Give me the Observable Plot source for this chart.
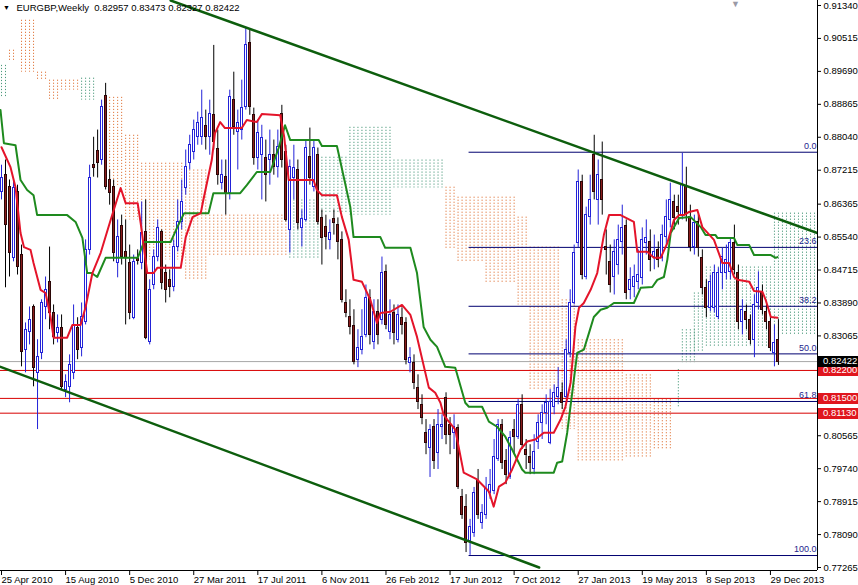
<!DOCTYPE html>
<html>
<head>
<meta charset="utf-8">
<script src="https://cdn.jsdelivr.net/npm/d3@7"></script>
<script src="https://cdn.jsdelivr.net/npm/@observablehq/plot@0.6"></script>
<style>
  html, body { margin: 0; padding: 0; background: #fff; overflow: hidden; }
  svg { display: block; }
</style>
</head>
<body>
<div id="chart"></div>
<script>
// ---------------- data ----------------
const symbolTitle = "EURGBP,Weekly  0.82957 0.83473 0.82327 0.82422";

const dateLabels = ["25 Apr 2010","15 Aug 2010","5 Dec 2010","27 Mar 2011","17 Jul 2011","6 Nov 2011",
  "26 Feb 2012","17 Jun 2012","7 Oct 2012","27 Jan 2013","19 May 2013","8 Sep 2013","29 Dec 2013"];
const dateTickWeeks = [0,16,32,48,64,80,96,112,128,144,160,176,192];

const priceTicks = [0.91340,0.90515,0.89690,0.88865,0.88040,0.87215,0.86365,0.85540,0.84715,
  0.83890,0.83065,0.80565,0.79740,0.78915,0.78090,0.77265];

// weekly candles, week 0 = 25 Apr 2010
const opens = [
.8667,.8709,.8679,.8502,.8667,.8509,.8272,.8317,.8379,.8214,.8264,.8379,.8442,.8364,.8314,.8327,.8172,.8179,.8214,.8327,
.8277,.8342,.8522,.8734,.8769,.8747,.8907,.8697,.8679,.8489,.8582,.8517,.8489,.8352,.8499,.8489,.8567,.8292,.8434,.8504,
.8567,.8464,.8447,.8429,.8529,.8592,.8677,.8739,.8767,.8804,.8804,.8832,.8804,.8859,.8774,.8689,.8704,.8664,.8897,.8817,
.8822,.8879,.9039,.8859,.8752,.8759,.8752,.8747,.8759,.8729,.8862,.8767,.8572,.8702,.8722,.8577,.8597,.8754,.8679,.8759,
.8602,.8579,.8547,.8599,.8584,.8547,.8389,.8354,.8332,.8247,.8272,.8309,.8402,.8292,.8367,.8347,.8467,.8317,.8364,.8297,
.8352,.8339,.8239,.8239,.8177,.8134,.8064,.8027,.8079,.8014,.8079,.8152,.8084,.8064,.8077,.7902,.7877,.7792,.7814,.7942,
.7839,.7859,.7914,.7917,.7997,.8084,.7992,.7954,.8072,.8054,.8134,.8022,.8004,.7972,.8042,.8089,.8114,.8039,.8129,.8154,
.8164,.8154,.8264,.8389,.8539,.8692,.8454,.8604,.8759,.8647,.8697,.8529,.8492,.8454,.8484,.8542,.8582,.8422,.8429,.8442,
.8452,.8539,.8542,.8504,.8522,.8502,.8554,.8597,.8642,.8629,.8609,.8679,.8604,.8529,.8592,.8502,.8427,.8377,.8377,.8354,
.8464,.8464,.8467,.8539,.8464,.8342,.8367,.8347,.8297,.8389,.8417,.8367,.8342,.8264,.82957];
const highs = [
.8734,.8747,.8697,.8697,.8684,.8534,.8339,.8379,.8384,.8297,.8397,.8454,.8529,.8384,.8359,.8359,.8209,.8259,.8384,.8352,
.8389,.8547,.8734,.8804,.8822,.8897,.8939,.8722,.8697,.8597,.8609,.8597,.8534,.8509,.8522,.8642,.8647,.8447,.8522,.8597,
.8572,.8484,.8472,.8547,.8647,.8697,.8772,.8809,.8847,.8867,.8922,.8872,.8897,.9034,.8822,.8747,.8747,.8922,.8967,.8872,
.8947,.9079,.9072,.8877,.8847,.8834,.8797,.8822,.8797,.8822,.8884,.8784,.8747,.8784,.8747,.8622,.8797,.8827,.8797,.8777,
.8622,.8609,.8597,.8622,.8602,.8567,.8422,.8397,.8372,.8322,.8372,.8434,.8422,.8397,.8397,.8504,.8484,.8397,.8384,.8384,
.8377,.8352,.8277,.8259,.8209,.8159,.8097,.8084,.8097,.8122,.8109,.8164,.8102,.8109,.8084,.7922,.7909,.7847,.7927,.7972,
.7884,.7952,.7972,.8047,.8097,.8097,.8022,.8067,.8097,.8147,.8159,.8047,.8034,.8059,.8109,.8134,.8159,.8172,.8184,.8227,
.8189,.8297,.8422,.8534,.8722,.8709,.8629,.8709,.8809,.8747,.8792,.8572,.8534,.8547,.8584,.8634,.8597,.8477,.8484,.8522,
.8577,.8597,.8572,.8559,.8542,.8584,.8647,.8689,.8659,.8659,.8764,.8729,.8634,.8609,.8609,.8522,.8447,.8459,.8484,.8477,
.8527,.8534,.8552,.8584,.8484,.8397,.8384,.8359,.8409,.8467,.8434,.8384,.8359,.8334,.83473];
const lows = [
.8647,.8427,.8454,.8492,.8459,.8229,.8214,.8284,.8179,.8072,.8247,.8347,.8322,.8284,.8289,.8172,.8152,.8139,.8197,.8247,
.8254,.8334,.8509,.8704,.8702,.8734,.8672,.8634,.8492,.8452,.8484,.8334,.8347,.8347,.8484,.8472,.8297,.8284,.8422,.8492,
.8422,.8389,.8402,.8417,.8517,.8572,.8659,.8722,.8747,.8784,.8784,.8772,.8759,.8772,.8684,.8672,.8609,.8647,.8809,.8722,
.8797,.8872,.8859,.8734,.8722,.8647,.8642,.8684,.8709,.8702,.8727,.8592,.8514,.8647,.8572,.8529,.8592,.8684,.8667,.8584,
.8484,.8522,.8522,.8559,.8497,.8389,.8352,.8309,.8234,.8227,.8259,.8302,.8284,.8272,.8284,.8334,.8322,.8297,.8284,.8289,
.8309,.8234,.8214,.8172,.8122,.8084,.8009,.7952,.7972,.7972,.8047,.8034,.8009,.8022,.7922,.7847,.7764,.7757,.7802,.7847,
.7822,.7847,.7897,.7909,.7992,.7972,.7934,.7947,.8009,.8047,.8022,.7972,.7959,.7959,.8022,.8047,.8084,.8034,.8109,.8134,
.8122,.8147,.8252,.8384,.8527,.8447,.8447,.8584,.8647,.8584,.8609,.8459,.8414,.8409,.8459,.8509,.8397,.8397,.8402,.8422,
.8434,.8509,.8467,.8472,.8477,.8492,.8534,.8577,.8572,.8584,.8597,.8592,.8517,.8509,.8504,.8409,.8352,.8367,.8364,.8347,
.8422,.8447,.8447,.8459,.8322,.8309,.8322,.8284,.8252,.8372,.8359,.8322,.8267,.8229,.82327];
const closes = [
.8702,.8584,.8514,.8677,.8479,.8267,.8322,.8347,.8227,.8254,.8389,.8422,.8364,.8304,.8327,.8179,.8192,.8234,.8334,.8272,
.8354,.8522,.8702,.8727,.8739,.8879,.8679,.8664,.8514,.8554,.8504,.8502,.8364,.8492,.8494,.8564,.8302,.8422,.8504,.8577,
.8439,.8422,.8429,.8529,.8592,.8642,.8729,.8784,.8822,.8839,.8852,.8804,.8862,.8792,.8709,.8709,.8664,.8904,.8829,.8839,
.8877,.9034,.8879,.8752,.8814,.8802,.8709,.8759,.8729,.8779,.8747,.8597,.8729,.8727,.8589,.8599,.8777,.8702,.8777,.8592,
.8552,.8554,.8564,.8589,.8542,.8397,.8364,.8329,.8242,.8277,.8304,.8402,.8309,.8367,.8309,.8464,.8334,.8359,.8314,.8359,
.8334,.8247,.8252,.8189,.8142,.8102,.8039,.8072,.7992,.8084,.8084,.8059,.8059,.8079,.7929,.7859,.7789,.7827,.7914,.7859,
.7864,.7922,.7932,.8002,.8084,.7989,.7959,.8052,.8054,.8134,.8034,.8009,.7989,.8017,.8089,.8114,.8139,.8142,.8164,.8177,
.8139,.8272,.8389,.8514,.8692,.8459,.8609,.8647,.8667,.8709,.8647,.8522,.8434,.8517,.8547,.8577,.8414,.8447,.8454,.8459,
.8547,.8552,.8497,.8517,.8497,.8559,.8604,.8647,.8602,.8617,.8684,.8609,.8529,.8589,.8527,.8427,.8377,.8442,.8464,.8464,
.8504,.8497,.8539,.8472,.8342,.8372,.8347,.8297,.8384,.8427,.8372,.8342,.8277,.8289,.82422];

// Ichimoku Tenkan-sen (red) vertices
const tenkanWeeks = [0,2.25,3.5,4.75,5.6,7.25,8,9.75,11,12.25,13,16.4,17.7,19.75,21,22.7,24.75,27.25,29.75,31,
  34,34.75,36.4,38,38.9,44.75,46,47.7,49.75,50.4,52.5,53.3,54.6,55.8,60,61.25,63.75,65,69.6,70.6,
  71.7,77.9,78.75,80,83.75,85,86.7,87.9,90,92.1,93.75,94.6,97.1,100,102.1,103.75,106.7,108.3,109.6,110.4,
  111.3,113.3,115.4,118.75,121.7,122.9,124.2,125.8,127.5,129.6,131.25,133.3,135.4,137.9,139.6,140.8,142.1,143.3,144.2,145.4,
  147.1,148.75,150.4,151.7,154.6,157.9,158.75,161.25,162.9,164.6,166.25,167.9,169.2,170.4,171.7,173.75,175,177.9,180,181.7,
  182.9,183.75,186.7,187.9,190,190.8,192.1,193.75];
const tenkanPrices = [.8779,.8729,.8679,.8564,.8529,.8522,.8489,.8422,.8414,.8354,.8302,.8302,.8334,.8334,.8379,.8464,.8514,.8597,.8677,.8639,
  .8639,.8589,.8464,.8464,.8477,.8477,.8554,.8604,.8614,.8647,.8747,.8814,.8842,.8827,.8827,.8847,.8842,.8862,.8859,.8804,
  .8697,.8697,.8672,.8659,.8659,.8604,.8547,.8447,.8442,.8397,.8339,.8364,.8367,.8384,.8359,.8304,.8177,.8164,.8139,.8109,
  .8097,.8072,.7964,.7947,.7917,.7879,.7929,.7939,.7972,.8022,.8042,.8047,.8064,.8064,.8097,.8129,.8189,.8329,.8377,.8389,
  .8422,.8464,.8559,.8609,.8609,.8592,.8517,.8517,.8502,.8502,.8539,.8597,.8609,.8609,.8617,.8622,.8579,.8547,.8489,.8489,
  .8454,.8447,.8442,.8419,.8417,.8397,.8354,.8352];

// Ichimoku Kijun-sen (green) vertices
const kijunWeeks = [-0.25,0.6,3.5,4.75,6.4,8,8.9,16.4,18.5,20.2,21.4,22.5,23.9,26,34,35.6,42.25,43.9,45.6,51.7,
  52.9,59.6,61.25,63.75,67.1,69.2,70.8,72.1,79.2,80,83.75,85.8,87.1,87.9,94.6,95.8,102.1,103.75,105.4,107.1,
  108.75,110.8,113.3,115.8,116.7,120,121.7,123.75,125.8,127.5,130,130.8,137.9,138.75,140,141.25,142.5,143.75,145.4,146.7,
  147.9,149.6,151.25,152.9,157.9,159.6,162.5,163.75,165.4,166.25,167.1,169.2,172.1,174.6,175.8,178.3,178.75,182.9,183.75,186.7,
  187.9,192.1,193.3,193.75];
const kijunPrices = [.8872,.8789,.8784,.8697,.8672,.8659,.8609,.8609,.8592,.8552,.8464,.8464,.8454,.8502,.8502,.8542,.8542,.8579,.8614,.8614,
  .8664,.8664,.8684,.8717,.8717,.8777,.8834,.8797,.8797,.8782,.8782,.8689,.8629,.8554,.8554,.8527,.8527,.8464,.8329,.8297,
  .8279,.8229,.8227,.8139,.8129,.8129,.8092,.8079,.8054,.8022,.7972,.7964,.7964,.7989,.7992,.8064,.8164,.8264,.8272,.8314,
  .8354,.8372,.8377,.8389,.8389,.8427,.8429,.8447,.8454,.8497,.8564,.8602,.8604,.8579,.8559,.8559,.8552,.8552,.8534,.8534,
  .8509,.8509,.8502,.8504];

// Ichimoku cloud blocks (Senkou Span A / B, already shifted forward)
const cloudStart = [0,2,5,9,12,15,20,26,31,35,46,52,72,80,87,98,111,114,121,129,132,140,144,156,163,169,170,173,176,193];
const cloudEnd   = [1,3,8,11,14,19,23,30,34,45,51,71,79,86,97,110,113,120,128,131,139,143,155,162,167,169,173,175,192,203];
const senkouA = [.8984,.8992,.8967,.8947,.8897,.8922,.8952,.8679,.8597,.8497,.8447,.8504,.8647,.8754,.8829,.8747,.8522,.8489,.8439,.8384,
  .8172,.8072,.7989,.8002,.8022,.8222,.8322,.8414,.8479,.8614];
const senkouB = [.8904,.9022,.9097,.8967,.8947,.8947,.8897,.8904,.8809,.8739,.8722,.8609,.8497,.8614,.8609,.8677,.8679,.8654,.8654,.8604,
  .8529,.8397,.8297,.8209,.8147,.8129,.8239,.8264,.8279,.8309];

// trend channel anchors [week, price]
const upperTrend = [[42.25, 0.91465], [203.75, 0.8564]];
const lowerTrend = [[-0.25, 0.8229], [134.25, 0.77265]];

// Fibonacci retracement
const fibStartWeek = 116.75;
const fibLabels = ["0.0","23.6","38.2","50.0","61.8","100.0"];
const fibPrices = [0.87665,0.85282,0.83807,0.82615,0.81423,0.77565];

// horizontal levels
const levelPrices = [0.82200, 0.81500, 0.81130];
const bidPrice = 0.82422;

// ---------------- chart ----------------
const W = 858, H = 585;
const mL = 0, mR = 41, mT = 0, mB = 15;
const xDomain = [-0.25, 203.75];
const yDomain = [0.77190, 0.91465];

const candles = opens.map((o, i) => ({w: i, o, h: highs[i], l: lows[i], c: closes[i]}));
const up = candles.filter(d => d.c >= d.o);
const down = candles.filter(d => d.c < d.o);
// one dotted column per bar inside each cloud block
const cloudCols = cloudStart.flatMap((s, i) =>
  d3.range(s, cloudEnd[i] + 1).map(w => ({w, a: senkouA[i], b: senkouB[i]})));
const tenkan = tenkanWeeks.map((w, i) => ({w, v: tenkanPrices[i]}));
const kijun = kijunWeeks.map((w, i) => ({w, v: kijunPrices[i]}));
const fib = fibPrices.map((v, i) => ({v, label: fibLabels[i]}));

const BULL = "#2222d8", BEAR_FILL = "#8a1c1c", BEAR_LINE = "#2a0606", BEAR_WICK = "#000000";

const chart = Plot.plot({
  width: W, height: H,
  marginLeft: mL, marginRight: mR, marginTop: mT, marginBottom: mB,
  x: {domain: xDomain},
  y: {domain: yDomain},
  style: {fontFamily: "'Liberation Sans', Arial, sans-serif", fontSize: "9.5px", background: "#ffffff", color: "#000000", overflow: "visible"},
  marks: [
    // cloud (dotted histogram)
    Plot.ruleX(cloudCols.filter(d => d.a < d.b), {x: "w", y1: "b", y2: "a", stroke: "#e0783e", strokeWidth: 1, strokeDasharray: "1.2,1.8", clip: true}),
    Plot.ruleX(cloudCols.filter(d => d.a >= d.b), {x: "w", y1: "a", y2: "b", stroke: "#4c9a7c", strokeWidth: 1, strokeDasharray: "1.2,1.8", clip: true}),
    // horizontal lines
    Plot.ruleY([bidPrice], {stroke: "#a8a8a8", strokeWidth: 1}),
    Plot.ruleY(levelPrices, {stroke: "#d80000", strokeWidth: 1}),
    Plot.ruleY(fibPrices, {x1: fibStartWeek, x2: xDomain[1], stroke: "#000070", strokeWidth: 1}),
    Plot.text(fib, {x: () => xDomain[1], y: "v", text: "label", textAnchor: "end", dx: -1, dy: -6, fill: "#24248c", fontSize: 9}),
    // candles: wicks then bodies
    Plot.ruleX(down, {x: "w", y1: "l", y2: "h", stroke: BEAR_WICK, strokeWidth: 1, clip: true}),
    Plot.ruleX(up, {x: "w", y1: "l", y2: "h", stroke: BULL, strokeWidth: 1, clip: true}),
    Plot.rect(down, {x1: d => d.w - 0.25, x2: d => d.w + 0.25, y1: "o", y2: "c", fill: BEAR_FILL, stroke: BEAR_LINE, strokeWidth: 1, shapeRendering: "crispEdges"}),
    Plot.rect(up, {x1: d => d.w - 0.25, x2: d => d.w + 0.25, y1: "o", y2: "c", fill: "#ffffff", stroke: BULL, strokeWidth: 1, shapeRendering: "crispEdges"}),
    // ichimoku lines
    Plot.line(kijun, {x: "w", y: "v", stroke: "#1e8a1e", strokeWidth: 2}),
    Plot.line(tenkan, {x: "w", y: "v", stroke: "#e4142a", strokeWidth: 2}),
    // trend channel
    Plot.line(upperTrend, {x: d => d[0], y: d => d[1], stroke: "#0d5e0d", strokeWidth: 2.5, clip: true}),
    Plot.line(lowerTrend, {x: d => d[0], y: d => d[1], stroke: "#0d5e0d", strokeWidth: 2.5, clip: true}),
    // axes
    Plot.axisY(priceTicks, {anchor: "right", tickSize: 3, tickPadding: 3, tickFormat: d => d.toFixed(5), label: null}),
    Plot.axisX(dateTickWeeks, {anchor: "bottom", tickSize: 5, tickPadding: 1, textAnchor: "start",
      tickFormat: d => dateLabels[dateTickWeeks.indexOf(d)], label: null}),
    Plot.ruleX([xDomain[1]], {stroke: "#000"}),
    Plot.ruleY([yDomain[0]], {stroke: "#000"}),
    // title
    Plot.text([symbolTitle], {frameAnchor: "top-left", dx: 16, dy: 7, textAnchor: "start", lineAnchor: "middle", fill: "#000"}),
    Plot.text(["\u25BC"], {frameAnchor: "top-left", dx: 6, dy: 7, textAnchor: "middle", lineAnchor: "middle", fontSize: 7, fill: "#000"}),
    Plot.text(["\u25BC"], {frameAnchor: "top-right", dx: -82, dy: 4, textAnchor: "middle", lineAnchor: "middle", fontSize: 9, fill: "#9a9aa6"})
  ]
});

document.getElementById("chart").appendChild(chart);

// price tags on the right axis
const svg = d3.select(chart);
const ys = chart.scale("y");
const tagX = W - mR + 1;
const tags = [
  ...levelPrices.map(v => ({v, bg: "#e0161e"})),
  {v: bidPrice, bg: "#000000"}
];
const tg = svg.append("g").attr("font-family", "'Liberation Sans', Arial, sans-serif")
  .attr("font-size", 9.5).attr("text-anchor", "start");
tags.forEach(t => {
  const yy = ys.apply(t.v);
  tg.append("rect").attr("x", tagX).attr("y", Math.round(yy) - 5).attr("width", W - tagX).attr("height", 11).attr("fill", t.bg);
  tg.append("text").attr("x", tagX + 5).attr("y", yy).attr("dy", "0.34em").attr("fill", "#fff").text(t.v.toFixed(5));
});
</script>
</body>
</html>
